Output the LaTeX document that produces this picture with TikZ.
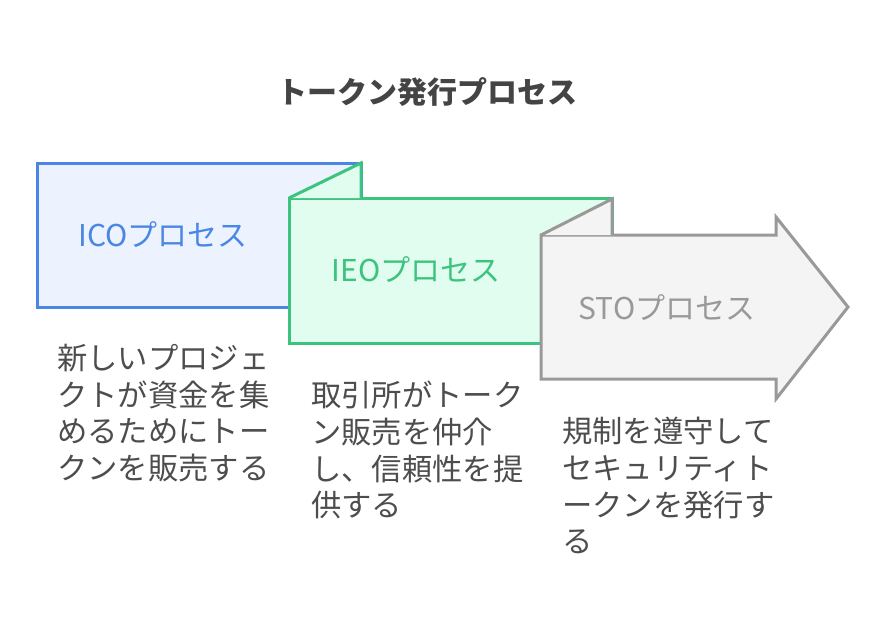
\documentclass[tikz,border=0pt]{standalone}
\usepackage{fontspec}
\newfontfamily\jp{Noto Sans CJK JP}
\definecolor{blueS}{HTML}{4A86E4}
\definecolor{blueF}{HTML}{ECF3FF}
\definecolor{greenS}{HTML}{3CC47F}
\definecolor{greenF}{HTML}{E0FDEF}
\definecolor{grayS}{HTML}{999999}
\definecolor{grayF}{HTML}{F4F4F4}
\definecolor{txt}{HTML}{4D4D4D}
\definecolor{ttl}{HTML}{444444}
\tikzset{
  shapeline/.style={line width=3pt, line join=miter},
  boxlabel/.style={font=\jp\fontsize{30}{34}\selectfont, anchor=center, inner sep=0pt},
  desc/.style={font=\jp\fontsize{30.3}{36.7}\selectfont, text=txt, align=left, anchor=north west, inner sep=0pt},
}
\begin{document}
\begin{tikzpicture}[x=1pt,y=-1pt]
\useasboundingbox (0,0) rectangle (886,633);
% title
\node[font=\jp\bfseries\fontsize{30}{36}\selectfont, text=ttl, inner sep=0pt] (title) at (427,92) {トークン発行プロセス};
% blue box
\draw[shapeline, draw=blueS, fill=blueF] (37,163) rectangle (361,307);
% green box
\draw[shapeline, draw=greenS, fill=greenF] (289,198) rectangle (612,343);
\draw[shapeline, draw=greenS, fill=greenF] (289,198) -- (361,163) -- (361,198);
% gray arrow
\draw[shapeline, draw=grayS, fill=grayF] (541,235) -- (776,235) -- (776,217) -- (848,307) -- (776,399) -- (776,379) -- (541,379) -- cycle;
\draw[shapeline, draw=grayS, fill=grayF] (541,235) -- (612,199) -- (612,235);
% labels
\node[boxlabel, text=blueS] (ico) at (163,235) {ICOプロセス};
\node[boxlabel, text=greenS] (ieo) at (416,270) {IEOプロセス};
\node[boxlabel, text=grayS] (sto) at (667,308) {STOプロセス};
% descriptions
\node[desc] (d1) at (57,344) {新しいプロジェ\\クトが資金を集\\めるためにトー\\クンを販売する};
\node[desc] (d2) at (311,381) {取引所がトーク\\ン販売を仲介\\し、信頼性を提\\供する};
\node[desc] (d3) at (562,417) {規制を遵守して\\セキュリティト\\ークンを発行す\\る};
\end{tikzpicture}
\end{document}
